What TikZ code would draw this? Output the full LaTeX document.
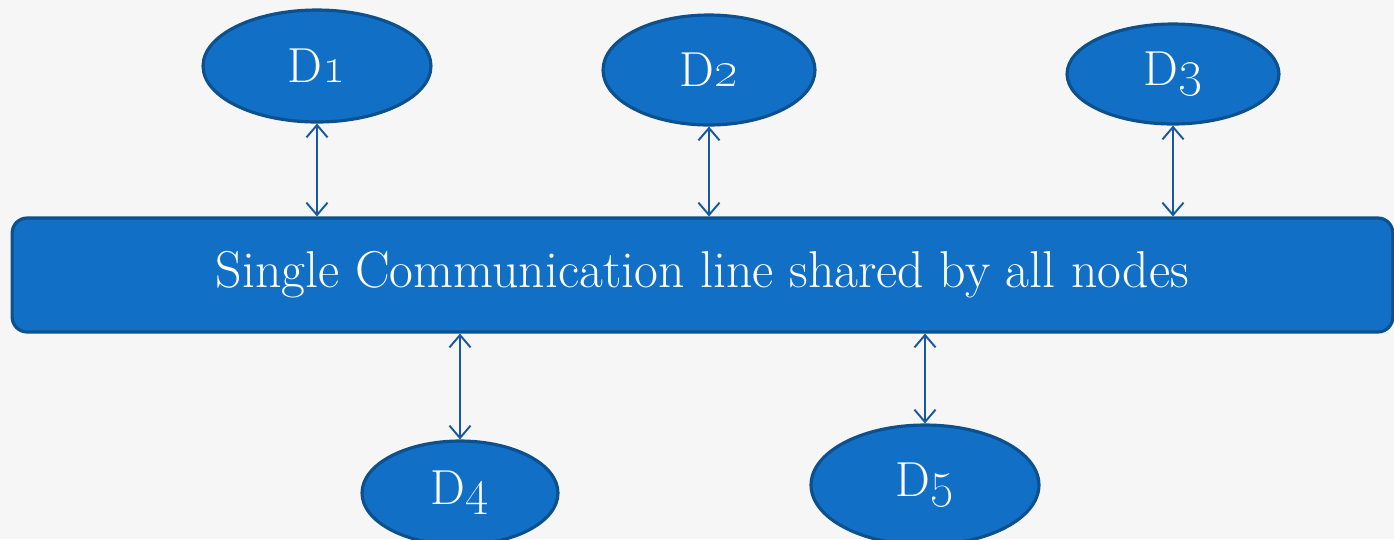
\documentclass[tikz,border=0pt]{standalone}
\usepackage{tikz}
\usetikzlibrary{shapes.geometric,arrows.meta}
\definecolor{devfill}{RGB}{17,112,198}
\definecolor{devedge}{RGB}{12,80,142}
\definecolor{linkcol}{RGB}{24,88,158}
\definecolor{paper}{RGB}{246,246,246}

\begin{document}
\begin{tikzpicture}[x=0.02cm,y=-0.02cm,
	dev/.style={ellipse,draw=devedge,fill=devfill,line width=1.8pt,inner sep=0pt,text=white,font=\fontsize{28}{32}\selectfont},
	bus/.style={rectangle,rounded corners=0.3cm,draw=devedge,fill=devfill,line width=1.8pt,inner sep=0pt,text=white,font=\fontsize{29.5}{34}\selectfont},
	link/.style={draw=linkcol,line width=1.1pt,{Straight Barb[length=7pt,width=12pt]}-{Straight Barb[length=7pt,width=12pt]}}]
	\fill[paper] (0,0) rectangle (1394,539);
	\useasboundingbox (0,0) rectangle (1394,539);
	\node[bus,minimum width=27.62cm,minimum height=2.28cm] (bus) at (702.5,275) {Single Communication line shared by all nodes};
	\node[dev,minimum width=4.56cm,minimum height=2.24cm] (D1) at (317,66) {D\oldstylenums{1}};
	\node[dev,minimum width=4.24cm,minimum height=2.2cm] (D2) at (709,70) {D\oldstylenums{2}};
	\node[dev,minimum width=4.24cm,minimum height=2.0cm] (D3) at (1173,74) {D\oldstylenums{3}};
	\node[dev,minimum width=3.92cm,minimum height=2.08cm] (D4) at (460,493) {D\oldstylenums{4}};
	\node[dev,minimum width=4.56cm,minimum height=2.4cm] (D5) at (925,485) {D\oldstylenums{5}};
	\foreach \d in {D1,D2,D3}
		\draw[link] (\d.south) -- (\d.south |- bus.north);
	\foreach \d in {D4,D5}
		\draw[link] (\d.north |- bus.south) -- (\d.north);
\end{tikzpicture}
\end{document}
